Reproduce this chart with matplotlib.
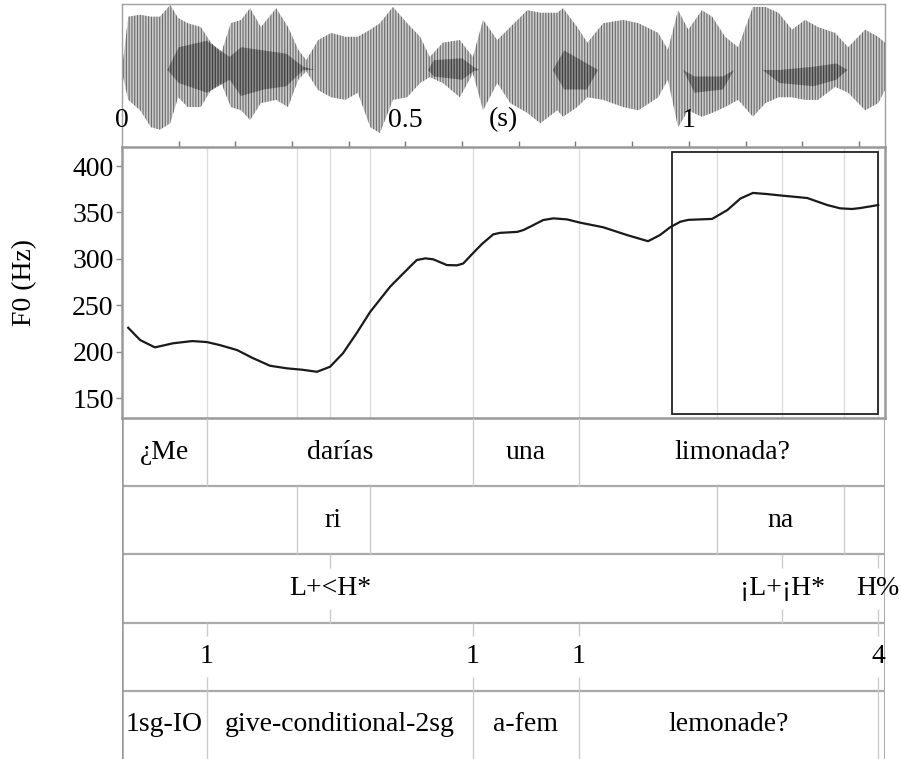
import numpy as np
import matplotlib
matplotlib.use("Agg")
import matplotlib.pyplot as plt
from matplotlib.patches import Rectangle

plt.rcParams['font.family'] = ['Liberation Serif', 'DejaVu Serif']
plt.rcParams['hatch.linewidth'] = 0.8

T_END = 1.346  # length of the sound (s)
FS = 20

# oscillogram envelope, relative amplitude
wave_t = [0.002, 0.011, 0.032, 0.051, 0.067, 0.085, 0.099, 0.116, 0.139, 0.157,
          0.175, 0.192, 0.210, 0.226, 0.245, 0.272, 0.293, 0.311, 0.325, 0.346,
          0.369, 0.394, 0.416, 0.438, 0.455, 0.478, 0.503, 0.526, 0.543, 0.566,
          0.596, 0.619, 0.637, 0.662, 0.685, 0.715, 0.738, 0.768, 0.778, 0.803,
          0.821, 0.849, 0.884, 0.911, 0.946, 0.963, 0.981, 0.999, 1.023, 1.041,
          1.064, 1.087, 1.113, 1.135, 1.158, 1.182, 1.205, 1.228, 1.258, 1.281,
          1.311, 1.334, 1.346]
wave_hi = [0.15, 0.82, 0.85, 0.82, 0.82, 1.00, 0.80, 0.72, 0.66, 0.42,
           0.26, 0.72, 0.77, 0.95, 0.66, 0.95, 0.66, 0.31, 0.15, 0.46,
           0.57, 0.51, 0.51, 0.62, 0.72, 0.97, 0.72, 0.51, 0.20, 0.42,
           0.46, 0.20, 0.77, 0.46, 0.66, 0.92, 0.88, 0.88, 0.95, 0.66,
           0.42, 0.72, 0.77, 0.72, 0.57, 0.31, 0.92, 0.62, 0.92, 0.82,
           0.51, 0.35, 0.97, 0.97, 0.88, 0.62, 0.77, 0.66, 0.57, 0.35,
           0.62, 0.51, 0.42]
wave_lo = [-0.11, -0.46, -0.62, -0.88, -0.92, -0.82, -0.42, -0.57, -0.57, -0.31,
           -0.20, -0.57, -0.62, -0.77, -0.51, -0.46, -0.57, -0.15, -0.02, -0.31,
           -0.42, -0.46, -0.35, -0.88, -0.97, -0.46, -0.42, -0.20, -0.11, -0.20,
           -0.42, -0.05, -0.62, -0.20, -0.51, -0.66, -0.82, -0.62, -0.72, -0.57,
           -0.42, -0.46, -0.57, -0.62, -0.42, -0.15, -0.88, -0.62, -0.72, -0.66,
           -0.57, -0.46, -0.72, -0.51, -0.42, -0.42, -0.46, -0.46, -0.26, -0.35,
           -0.62, -0.51, -0.31]

# dense (dark) parts of the oscillogram
dark_t = [0.08, 0.10, 0.15, 0.19, 0.21, 0.25, 0.29, 0.32, 0.34,
          0.54, 0.55, 0.60, 0.62, 0.63,
          0.76, 0.78, 0.82, 0.84,
          0.99, 1.01, 1.06, 1.08,
          1.13, 1.16, 1.22, 1.26, 1.28]
dark_hi = [0.0, 0.35, 0.45, 0.20, 0.35, 0.30, 0.25, 0.05, 0.0,
           0.0, 0.15, 0.18, 0.05, 0.0,
           0.0, 0.30, 0.10, 0.0,
           0.0, -0.10, -0.10, 0.0,
           0.0, 0.0, 0.05, 0.10, 0.0]
dark_lo = [0.0, -0.20, -0.35, -0.15, -0.40, -0.30, -0.25, 0.0, 0.0,
           0.0, -0.10, -0.15, -0.02, 0.0,
           0.0, -0.30, -0.30, 0.0,
           0.0, -0.35, -0.30, 0.0,
           0.0, -0.20, -0.25, -0.15, 0.0]

wave_labels = ["0", "0.5", "(s)", "1"]
wave_label_t = [0.0, 0.5, 0.672, 1.0]

# pitch track
f0_t = [0.011, 0.032, 0.058, 0.090, 0.124, 0.150, 0.173, 0.203, 0.231, 0.261,
        0.291, 0.318, 0.344, 0.367, 0.390, 0.414, 0.438, 0.473, 0.508, 0.520,
        0.535, 0.549, 0.573, 0.591, 0.602, 0.619, 0.635, 0.655, 0.667, 0.697,
        0.708, 0.720, 0.743, 0.761, 0.785, 0.808, 0.849, 0.891, 0.928, 0.949,
        0.967, 0.985, 0.999, 1.020, 1.041, 1.068, 1.091, 1.113, 1.138, 1.166,
        1.184, 1.209, 1.244, 1.267, 1.288, 1.302, 1.320, 1.334]
f0_hz = [225.7, 212.5, 204.6, 209.0, 211.4, 210.3, 207.0, 201.7, 193.0, 184.8,
         182.0, 180.5, 178.3, 183.7, 198.4, 220.0, 243.0, 270.0, 291.5, 298.7,
         300.5, 299.5, 293.3, 293.0, 295.0, 306.0, 316.0, 326.4, 328.0, 329.0,
         331.0, 334.6, 341.8, 343.6, 342.5, 339.0, 334.0, 325.6, 319.0, 325.6,
         334.0, 340.0, 342.0, 342.5, 343.0, 352.6, 365.0, 371.0, 369.8, 368.0,
         367.0, 365.5, 358.0, 354.4, 353.7, 354.7, 356.5, 358.0]

box_t = (0.970, 1.333)
box_hz = (132.7, 415.0)

# annotation tiers
words = ["¿Me", "darías", "una", "limonada?"]
word_bounds = [0.0, 0.150, 0.619, 0.806, T_END]
syllables = ["", "ri", "", "na", ""]
syll_bounds = [0.0, 0.309, 0.437, 1.050, 1.274, T_END]
tones = ["L+<H*", "¡L+¡H*", "H%"]
tone_t = [0.367, 1.165, 1.334]
breaks = ["1", "1", "1", "4"]
break_t = [0.150, 0.619, 0.806, 1.334]
gloss = ["1sg-IO", "give-conditional-2sg", "a-fem", "lemonade?", ""]
gloss_bounds = [0.0, 0.150, 0.619, 0.806, 1.334, T_END]

W, H = 901, 759
fig = plt.figure(figsize=(W / 100, H / 100), dpi=100)


def box(x0, y0, x1, y1):
    return [x0 / W, 1 - y1 / H, (x1 - x0) / W, (y1 - y0) / H]


ax_w = fig.add_axes(box(122, 4, 885, 147))
ax_f = fig.add_axes(box(122, 147, 885, 418))
ax_t = fig.add_axes(box(122, 418, 885, 759))

# --- oscillogram
ax_w.fill_between(wave_t, wave_lo, wave_hi, facecolor='#cccccc', edgecolor='#6a6a6a',
                  hatch='||||||', linewidth=0)
ax_w.fill_between(dark_t, dark_lo, dark_hi, facecolor='#505050', edgecolor='#202020',
                  hatch='||||||', linewidth=0, alpha=0.5)
for t, s in zip(wave_label_t, wave_labels):
    ax_w.text(t, -0.77, s, ha='center', va='center', fontsize=FS)
ax_w.set_xlim(0, T_END)
ax_w.set_ylim(-1.185, 1.015)
ax_w.set_xticks([])
ax_w.set_yticks([])
for sp in ax_w.spines.values():
    sp.set_color('#a0a0a0')
    sp.set_linewidth(1)
ax_w.spines['bottom'].set_visible(False)

# --- pitch panel
grid_t = sorted(set(word_bounds[1:-1] + syll_bounds[1:-1] + tone_t))
for t in grid_t:
    ax_f.axvline(t, color='#dddddd', lw=1, zorder=0)
ax_f.plot(f0_t, f0_hz, color='#1a1a1a', lw=1.6)
ax_f.add_patch(Rectangle((box_t[0], box_hz[0]), box_t[1] - box_t[0], box_hz[1] - box_hz[0],
                         fill=False, edgecolor='#222222', lw=1.3))
ax_f.set_xlim(0, T_END)
ax_f.set_ylim(128.5, 420.5)
ax_f.set_yticks([150, 200, 250, 300, 350, 400])
ax_f.xaxis.tick_top()
ax_f.set_xticks(np.arange(1, 14) / 10)
ax_f.set_xticklabels([])
ax_f.tick_params(axis='x', direction='out', length=4.5, width=1, color='#777777')
ax_f.tick_params(axis='y', direction='out', length=4, width=1, color='#888888',
                 labelsize=FS, pad=2)
ax_f.set_ylabel("F0 (Hz)", fontsize=FS)
ax_f.yaxis.set_label_coords(-0.111, 0.5)
for sp in ax_f.spines.values():
    sp.set_color('#999999')
    sp.set_linewidth(1.8)

# --- tiers
ax_t.set_xlim(0, T_END)
ax_t.set_ylim(5, 0)
ax_t.axis('off')
for y in range(1, 5):
    ax_t.axhline(y, color='#aaaaaa', lw=1.6)
ax_t.axvline(0, color='#999999', lw=1.8)
ax_t.axvline(T_END, color='#aaaaaa', lw=1.4)


def interval_tier(row, labels, bounds):
    for b in bounds[1:-1]:
        ax_t.vlines(b, row, row + 1, color='#cccccc', lw=1)
    for a, b, s in zip(bounds[:-1], bounds[1:], labels):
        ax_t.text((a + b) / 2, row + 0.5, s, ha='center', va='center', fontsize=FS)


def point_tier(row, labels, times):
    for t, s in zip(times, labels):
        ax_t.vlines(t, row, row + 0.2, color='#cccccc', lw=1)
        ax_t.vlines(t, row + 0.8, row + 1, color='#cccccc', lw=1)
        ax_t.text(t, row + 0.5, s, ha='center', va='center', fontsize=FS, clip_on=False)


interval_tier(0, words, word_bounds)
interval_tier(1, syllables, syll_bounds)
point_tier(2, tones, tone_t)
point_tier(3, breaks, break_t)
interval_tier(4, gloss, gloss_bounds)

fig.savefig("out.png", dpi=100)
